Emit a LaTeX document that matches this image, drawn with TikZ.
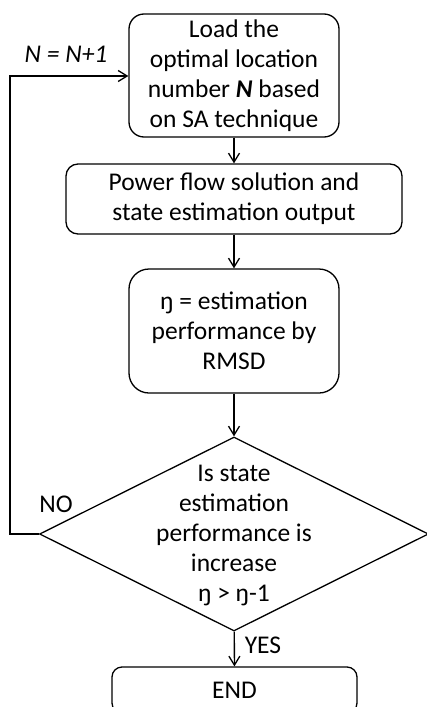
\documentclass[tikz,border=0pt]{standalone}
\usepackage{fontspec}
\setmainfont{Carlito}
\usetikzlibrary{arrows.meta,shapes.geometric}
\tikzset{
  box/.style={draw, line width=1.3pt, rounded corners=#1, align=center, inner sep=0pt},
  txt/.style={font=\fontsize{25.5}{30}\selectfont},
  arr/.style={line width=1.3pt, -{Straight Barb[length=9pt,width=11pt,line width=1.3pt]}},
}
\begin{document}
\begin{tikzpicture}[x=1pt,y=-1pt, txt]
\useasboundingbox (0,0) rectangle (427,707);
\clip (0,0) rectangle (427,707);
\node[box=15pt, minimum width=210pt, minimum height=123pt] (b1) at (234,75.5)
  {Load the\\optimal location\\number \textbf{\textit{N}} based\\on SA technique};
\node[box=12pt, minimum width=336pt, minimum height=70pt] (b2) at (234,199)
  {Power flow solution and\\state estimation output};
\node[box=20pt, minimum width=210pt, minimum height=124pt] (b3) at (234,331)
  {ŋ = estimation\\performance by\\RMSD};
\node[draw, line width=1.3pt, diamond, minimum width=389pt, minimum height=194pt, inner sep=0pt] (dec) at (234,534) {};
\node[align=center] (dtxt) at (234,536) {Is state\\estimation\\performance is\\increase\\ŋ > ŋ-1};
\node[box=10pt, minimum width=245pt, minimum height=46pt] (end) at (234.5,690) {END};
\coordinate (fb) at (10,76);
\draw[arr] (b1) -- (b2);
\draw[arr] (b2) -- (b3);
\draw[arr] (b3) -- (dec);
\draw[arr] (dec) -- (end);
\draw[arr] (dec.west) -| (fb) -- (b1.west |- fb);
\node (lN) at (66,54) {\itshape N = N+1};
\node (lno) at (56,504) {NO};
\node (lyes) at (263,645) {YES};
\end{tikzpicture}
\end{document}
